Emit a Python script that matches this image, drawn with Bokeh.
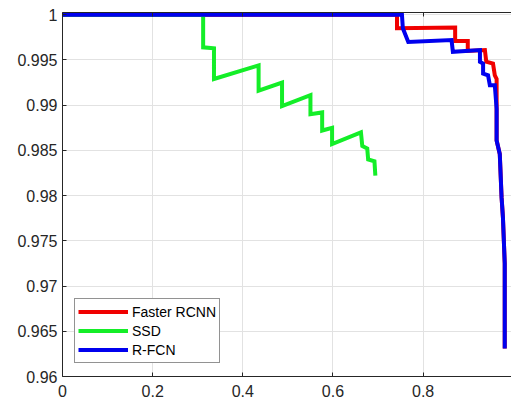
from bokeh.plotting import figure
from bokeh.models import (FixedTicker, LinearAxis, Legend, LegendItem,
                          CustomJSTickFormatter, Range1d)
from bokeh.embed import file_html
from bokeh.resources import INLINE

# ---- data ----
series_names = ["Faster RCNN", "SSD", "R-FCN"]

frcnn_recall = [0.0, 0.742, 0.742, 0.871, 0.871, 0.899, 0.899, 0.937, 0.940,
                0.955, 0.959, 0.963, 0.963, 0.963, 0.970, 0.974, 0.977, 0.981, 0.981]
frcnn_prec = [1.0, 1.0, 0.9985, 0.9986, 0.9971, 0.9971, 0.9960, 0.9961, 0.9948,
              0.9946, 0.9933, 0.9929, 0.9896, 0.9861, 0.9846, 0.9798, 0.9776, 0.9725, 0.9631]

ssd_recall = [0.0, 0.312, 0.312, 0.336, 0.336, 0.435, 0.435, 0.487, 0.487, 0.550,
              0.550, 0.576, 0.576, 0.598, 0.598, 0.662, 0.665, 0.676, 0.678, 0.692, 0.694]
ssd_prec = [1.0, 1.0, 0.9964, 0.9963, 0.9929, 0.9944, 0.9916, 0.9925, 0.9899, 0.9911,
            0.9890, 0.9892, 0.9872, 0.9875, 0.9857, 0.9870, 0.9855, 0.9852, 0.9840, 0.9838, 0.9822]

rfcn_recall = [0.0, 0.753, 0.755, 0.767, 0.863, 0.866, 0.926, 0.926, 0.933, 0.933,
               0.944, 0.948, 0.959, 0.963, 0.963, 0.970, 0.974, 0.977, 0.981, 0.981]
rfcn_prec = [1.0, 1.0, 0.9985, 0.9970, 0.9972, 0.9959, 0.9961, 0.9948, 0.9946, 0.9935,
             0.9933, 0.9922, 0.9922, 0.9896, 0.9861, 0.9846, 0.9798, 0.9776, 0.9725, 0.9631]

x_ticks = [0, 0.2, 0.4, 0.6, 0.8, 1.0]
y_ticks = [0.96, 0.965, 0.97, 0.975, 0.98, 0.985, 0.99, 0.995, 1.0]

colors = ["#f00000", "#14ee28", "#0000ee"]

# ---- figure ----
p = figure(width=511, height=403, x_range=Range1d(0, 0.996),
           y_range=Range1d(0.96, 1.00025), output_backend="svg",
           toolbar_location=None, min_border_left=62, min_border_right=0,
           min_border_top=12, min_border_bottom=27)
p.outline_line_color = None
p.background_fill_color = "white"

fmt_code = "return tick.toFixed(3).replace(/0+$/, '').replace(/\\.$/, '');"
for ax, ticks in ((p.xaxis[0], x_ticks), (p.yaxis[0], y_ticks)):
    ax.ticker = FixedTicker(ticks=ticks)
    ax.formatter = CustomJSTickFormatter(code=fmt_code)
    ax.major_label_text_font = "Liberation Sans"
    ax.major_label_text_font_size = "16px"
    ax.major_label_text_color = "#262626"
    ax.major_tick_in = 4
    ax.major_tick_out = 0
    ax.minor_tick_line_color = None
    ax.axis_line_color = "#262626"
    ax.major_tick_line_color = "#262626"
p.xaxis[0].major_label_standoff = 8
p.yaxis[0].major_label_standoff = 5

top = LinearAxis(ticker=FixedTicker(ticks=x_ticks),
                 formatter=CustomJSTickFormatter(code="return '';"),
                 major_label_text_font_size="0px", major_label_standoff=0,
                 major_tick_in=4, major_tick_out=0, minor_tick_line_color=None,
                 axis_line_color="#262626", major_tick_line_color="#262626")
p.add_layout(top, "above")

p.grid.grid_line_color = "#e2e2e2"
p.grid.grid_line_width = 1

r1 = p.line(frcnn_recall, frcnn_prec, line_color=colors[0], line_width=4, line_join="miter")
r2 = p.line(ssd_recall, ssd_prec, line_color=colors[1], line_width=4, line_join="miter")
r3 = p.line(rfcn_recall, rfcn_prec, line_color=colors[2], line_width=4, line_join="miter")

legend = Legend(items=[LegendItem(label=series_names[0], renderers=[r1]),
                       LegendItem(label=series_names[1], renderers=[r2]),
                       LegendItem(label=series_names[2], renderers=[r3])],
                location=(12, 13))
legend.label_text_font = "Liberation Sans"
legend.label_text_font_size = "14px"
legend.label_text_color = "#000000"
legend.glyph_width = 50
legend.glyph_height = 19
legend.label_height = 19
legend.label_standoff = 4
legend.padding = 3
legend.spacing = 0
legend.margin = 0
legend.border_line_color = "#262626"
legend.border_line_width = 1
legend.background_fill_alpha = 1
p.add_layout(legend)

open("out.html", "w").write(file_html(p, INLINE))
